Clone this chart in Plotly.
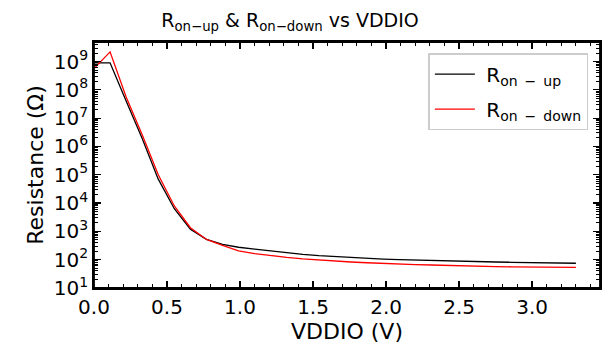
import plotly.graph_objects as go

# Data
vddio = [0.0, 0.11, 0.22, 0.33, 0.44, 0.55, 0.66, 0.77, 0.88, 0.99, 1.10, 1.21,
         1.32, 1.43, 1.54, 1.65, 1.76, 1.87, 1.98, 2.09, 2.20, 2.31, 2.42, 2.53,
         2.64, 2.75, 2.86, 2.97, 3.08, 3.19, 3.30]
r_on_up = [9.0e8, 9.0e8, 4.0e7, 1.9e6, 7.0e4, 6.3e3, 1.2e3, 5.2e2, 3.5e2, 2.75e2,
           2.37e2, 2.05e2, 1.75e2, 1.55e2, 1.40e2, 1.29e2, 1.20e2, 1.12e2, 1.05e2,
           1.00e2, 9.6e1, 9.3e1, 9.0e1, 8.7e1, 8.5e1, 8.3e1, 8.1e1, 7.9e1, 7.8e1,
           7.6e1, 7.5e1]
r_on_down = [5.6e8, 2.2e9, 5.6e7, 2.6e6, 1.0e5, 7.9e3, 1.35e3, 5.2e2, 3.2e2, 2.05e2,
             1.65e2, 1.38e2, 1.20e2, 1.07e2, 9.7e1, 8.9e1, 8.3e1, 7.8e1, 7.3e1,
             7.0e1, 6.7e1, 6.5e1, 6.2e1, 6.0e1, 5.9e1, 5.7e1, 5.6e1, 5.5e1, 5.45e1,
             5.4e1, 5.35e1]

y_exponents = [1, 2, 3, 4, 5, 6, 7, 8, 9]
x_ticks = [0.0, 0.5, 1.0, 1.5, 2.0, 2.5, 3.0]
x_minor = [i / 10 for i in range(0, 35)]
y_minor = [m * 10 ** e for e in range(1, 10) for m in range(2, 10)]

FONT = "DejaVu Sans"
X_RANGE = [0, 3.465]
Y_RANGE = [1, 9.69]
SP = "\u2002"

fig = go.Figure()
fig.add_trace(go.Scatter(x=vddio, y=r_on_up, mode="lines",
                         line=dict(color="black", width=1.3),
                         legendgroup="a",
                         name=f"\u00a0R<sub>on{SP}−{SP}up</sub>"))
fig.add_trace(go.Scatter(x=vddio, y=r_on_down, mode="lines",
                         line=dict(color="red", width=1.3),
                         legendgroup="b",
                         name=f"\u00a0R<sub>on{SP}−{SP}down</sub>"))

tick_style = dict(ticks="inside", ticklen=7, tickwidth=1.3, tickcolor="black",
                  showgrid=False, zeroline=False, showline=True,
                  linecolor="black", linewidth=1.8)
minor_x = dict(tickmode="array", tickvals=x_minor, ticks="inside",
               ticklen=4, tickwidth=1, tickcolor="black", showgrid=False)
minor_y = dict(tickmode="array", tickvals=y_minor, ticks="inside",
               ticklen=4, tickwidth=1, tickcolor="black", showgrid=False)

fig.update_layout(
    xaxis=dict(range=X_RANGE, tickmode="array", tickvals=x_ticks,
               ticktext=[f"{v:.1f}" for v in x_ticks], minor=minor_x,
               tickfont=dict(family=FONT, size=20, color="black"),
               title=dict(text="VDDIO (V)",
                          font=dict(family=FONT, size=22, color="black"), standoff=6),
               **tick_style),
    xaxis2=dict(range=X_RANGE, overlaying="x", side="top", tickmode="array",
                tickvals=x_ticks, showticklabels=False, minor=minor_x, **tick_style),
    yaxis=dict(type="log", range=Y_RANGE, tickmode="array",
               tickvals=[10 ** e for e in y_exponents],
               ticktext=[f"10<sup>{e}</sup>" for e in y_exponents], minor=minor_y,
               tickfont=dict(family=FONT, size=20, color="black"),
               title=dict(text="Resistance (Ω)",
                          font=dict(family=FONT, size=22, color="black"), standoff=4),
               **tick_style),
    yaxis2=dict(type="log", range=Y_RANGE, overlaying="y", side="right",
                tickmode="array", tickvals=[10 ** e for e in y_exponents],
                showticklabels=False, minor=minor_y, **tick_style),
)

# invisible helper trace so the top/right axes are drawn
fig.add_trace(go.Scatter(x=[vddio[0]], y=[r_on_up[0]], xaxis="x2", yaxis="y2",
                         mode="markers", marker=dict(opacity=0), showlegend=False,
                         hoverinfo="skip"))

fig.add_shape(type="rect", xref="paper", yref="paper", x0=0, y0=0, x1=1, y1=1,
              line=dict(color="black", width=1.8), fillcolor="rgba(0,0,0,0)",
              layer="above")

fig.update_layout(
    width=610, height=352,
    margin=dict(l=94, r=10, t=42, b=64, autoexpand=False),
    paper_bgcolor="white", plot_bgcolor="white",
    font=dict(family=FONT, color="black"),
    title=dict(text="R<sub>on−up</sub> & R<sub>on−down</sub> vs VDDIO",
               x=290 / 610, xanchor="center", y=1 - 27 / 352, yanchor="bottom",
               font=dict(family=FONT, size=19, color="black")),
    legend=dict(x=0.977, xanchor="right", y=0.955, yanchor="top",
                bgcolor="white", bordercolor="#cccccc", borderwidth=1.5,
                font=dict(family=FONT, size=20, color="black"),
                itemwidth=40, tracegroupgap=6),
    showlegend=True,
    hovermode=False,
)

fig.write_html("out.html", config={"displayModeBar": False, "staticPlot": True},
               post_script="document.body.style.margin='0';document.body.style.padding='0';")
